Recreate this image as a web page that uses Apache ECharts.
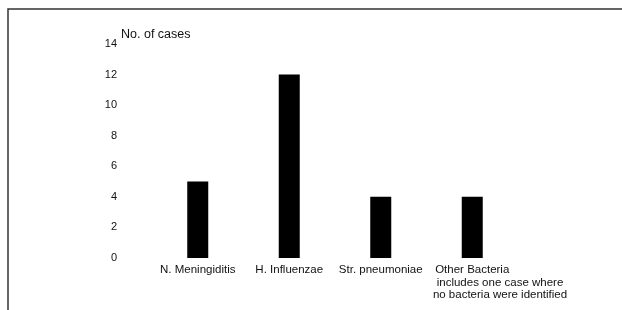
<!DOCTYPE html>
<html>
<head>
<meta charset="utf-8">
<script src="https://cdn.jsdelivr.net/npm/echarts@6/dist/echarts.min.js"></script>
<style>
  html, body { margin: 0; padding: 0; background: #fff; }
  #chart { width: 622px; height: 310px; }
</style>
</head>
<body>
<div id="chart"></div>
<script>
// categories and case counts
const categories = ['N. Meningiditis', 'H. Influenzae', 'Str. pneumoniae', 'Other Bacteria']
const cases = [5, 12, 4, 4]
const yTicks = { min: 0, max: 14, interval: 2 }
const noteLines = ['includes one case where', 'no bacteria were identified']

const chart = echarts.init(document.getElementById('chart'))
const font = 'Liberation Sans, Arial, sans-serif'

chart.setOption({
  backgroundColor: '#fff',
  animation: false,
  title: {
    text: 'No. of cases',
    left: 116,
    top: 23,
    textStyle: { fontFamily: font, fontSize: 12.5, fontWeight: 'normal', color: '#111' }
  },
  grid: { left: 152, right: 104, top: 44, bottom: 52 },
  xAxis: {
    type: 'category',
    data: categories,
    axisLine: { show: false },
    axisTick: { show: false },
    axisLabel: {
      margin: 6,
      interval: 0,
      fontFamily: font,
      fontSize: 11.5,
      color: '#111'
    }
  },
  yAxis: {
    type: 'value',
    min: yTicks.min,
    max: yTicks.max,
    interval: yTicks.interval,
    axisLine: { show: false },
    axisTick: { show: false },
    splitLine: { show: false },
    axisLabel: {
      margin: 35,
      fontFamily: font,
      fontSize: 11,
      color: '#111'
    }
  },
  series: [{
    type: 'bar',
    data: cases,
    barWidth: 21,
    itemStyle: { color: '#000' }
  }],
  graphic: [
    {
      type: 'polyline',
      shape: { points: [[8, 310], [8, 9], [622, 9]] },
      style: { stroke: '#333', lineWidth: 1.5, fill: null }
    },
    {
      type: 'text',
      style: {
        x: 500,
        y: 277,
        text: noteLines.join('\n'),
        fontFamily: font,
        fontSize: 11.5,
        lineHeight: 12,
        align: 'center',
        verticalAlign: 'top',
        fill: '#111'
      }
    }
  ]
})
</script>
</body>
</html>
